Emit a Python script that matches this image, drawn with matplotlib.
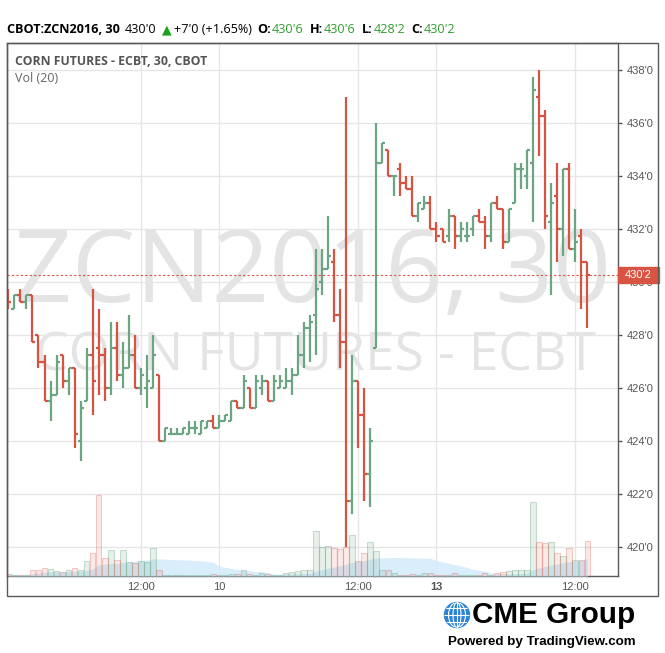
import numpy as np
import pandas as pd
import matplotlib
matplotlib.use("Agg")
import matplotlib.pyplot as plt
from matplotlib.patches import Rectangle, Circle, Ellipse

# 30-minute OHLC bars, ZCN2016 (cents/bu)
opens = [429.75, 429.0, 429.5, 429.25, 429.5, 428.0, 427.0, 425.5, 425.75, 427.25,
         426.25, 426.75, 424.0, 425.5, 427.25, 427.5, 427.25, 426.0, 427.5, 426.5,
         426.75, 427.25, 426.0, 426.0, 426.0, 426.5, 424.0, 424.25, 424.25, 424.25,
         424.25, 424.5, 424.25, 424.5, 424.75, 424.5, 424.75, 424.75, 425.5, 425.25,
         426.0, 425.25, 426.0, 426.25, 425.5, 426.0, 426.0, 426.25, 426.5, 427.25,
         428.25, 428.75, 430.0, 430.5, 430.75, 428.75, 427.75, 421.75, 426.25, 425.0,
         422.75, 427.5, 434.5, 435.0, 434.0, 434.25, 433.75, 433.5, 432.5, 432.75,
         433.0, 432.0, 432.0, 431.75, 432.5, 431.75, 431.75, 432.0, 432.5, 432.25,
         431.75, 433.0, 432.75, 431.5, 433.0, 434.25, 434.0, 434.5, 437.0, 436.25,
         432.25, 433.25, 432.0, 434.25, 431.25, 431.75, 430.75]
highs = [429.75, 429.5, 429.75, 429.5, 429.5, 428.0, 427.25, 426.25, 427.25, 427.25,
         426.75, 426.75, 425.5, 427.5, 429.75, 429.0, 427.5, 428.5, 428.5, 427.75,
         428.75, 428.0, 426.75, 427.25, 428.0, 426.5, 424.5, 424.5, 424.5, 424.5,
         424.75, 424.75, 424.75, 424.75, 425.0, 425.0, 425.0, 425.5, 425.5, 426.5,
         426.0, 426.5, 426.5, 426.25, 426.5, 426.5, 426.75, 426.75, 428.0, 428.5,
         428.75, 431.25, 431.25, 432.5, 431.25, 429.75, 437.0, 427.25, 426.25, 426.0,
         424.5, 436.0, 435.25, 435.0, 434.0, 434.5, 434.0, 434.0, 433.0, 433.25,
         433.25, 432.25, 432.0, 432.75, 432.5, 432.25, 432.25, 432.5, 432.75, 432.5,
         433.0, 433.25, 432.75, 432.75, 434.5, 434.5, 435.0, 437.75, 438.0, 436.5,
         433.75, 434.5, 434.25, 434.5, 432.75, 432.0, 430.75]
lows = [429.0, 429.0, 429.25, 429.0, 427.75, 426.75, 425.5, 424.75, 425.75, 426.0,
        425.75, 423.75, 423.25, 425.5, 425.0, 425.75, 425.5, 425.75, 426.25, 426.0,
        426.75, 426.0, 425.75, 425.25, 426.0, 424.0, 424.0, 424.25, 424.25, 424.25,
        424.25, 424.25, 424.25, 424.5, 424.5, 424.5, 424.75, 424.75, 425.25, 425.25,
        425.25, 425.25, 425.75, 425.5, 425.5, 426.0, 426.0, 425.75, 426.5, 426.75,
        427.0, 427.25, 429.5, 430.5, 428.5, 426.75, 420.0, 421.25, 423.75, 421.75,
        421.5, 427.5, 434.5, 434.0, 433.25, 433.25, 433.5, 432.5, 432.25, 432.75,
        432.0, 431.5, 431.5, 431.5, 431.25, 431.5, 431.5, 431.75, 432.25, 431.25,
        431.5, 432.75, 431.25, 431.5, 433.0, 433.5, 433.5, 432.25, 434.75, 432.0,
        429.5, 430.75, 431.0, 431.25, 430.75, 429.0, 428.25]
closes = [429.25, 429.5, 429.25, 429.5, 427.75, 427.0, 425.5, 425.75, 427.0, 426.25,
          426.75, 424.25, 425.25, 427.25, 426.25, 427.25, 426.0, 427.5, 426.5, 426.75,
          427.25, 426.0, 426.5, 426.25, 427.25, 424.0, 424.5, 424.25, 424.25, 424.5,
          424.5, 424.5, 424.75, 424.75, 424.5, 424.75, 425.0, 425.5, 425.25, 426.25,
          425.25, 426.25, 426.25, 425.5, 426.25, 426.25, 426.25, 426.5, 427.25, 428.25,
          428.5, 429.75, 430.5, 431.0, 428.75, 427.75, 421.75, 426.25, 425.0, 422.75,
          424.0, 434.5, 435.25, 434.0, 434.0, 433.75, 433.5, 432.5, 433.0, 433.0,
          432.0, 431.75, 431.5, 432.5, 431.75, 432.0, 431.75, 432.5, 432.25, 431.75,
          433.0, 432.75, 431.5, 432.75, 434.25, 434.25, 435.0, 437.25, 436.25, 432.5,
          433.0, 432.0, 434.25, 431.25, 431.5, 430.75, 430.25]
volumes = [100, 60, 40, 40, 230, 230, 340, 300, 190, 170,
           230, 340, 260, 590, 920, 3240, 740, 1060, 660, 1060,
           560, 520, 590, 560, 1130, 260, 60, 40, 30, 40,
           50, 40, 40, 60, 80, 60, 60, 80, 80, 230,
           90, 60, 110, 80, 60, 60, 120, 170, 200, 230,
           230, 1820, 1160, 1190, 1120, 1090, 1160, 1660, 600, 940,
           1380, 1000, 230, 230, 130, 60, 40, 90, 40, 130,
           130, 40, 40, 40, 130, 40, 30, 40, 40, 130,
           40, 130, 170, 200, 230, 260, 260, 2970, 1360, 1320,
           1380, 920, 790, 1130, 630, 630, 1420]

price_ticks = [420, 422, 424, 426, 428, 430, 432, 434, 436, 438]
time_ticks = [22, 35, 58, 71, 94]
time_labels = ["12:00", "10", "12:00", "13", "12:00"]
last_price = 430.25

GREEN = "#6ba583"
RED = "#d75442"
W, H = 665, 653


def quote(p):
    whole = int(p)
    return f"{whole}'{int(round((p - whole) * 8))}"


fig = plt.figure(figsize=(W / 100, H / 100), dpi=100)
fig.patch.set_facecolor("white")
renderer = fig.canvas.get_renderer()

rect = [7 / W, 1 - 576 / H, 611 / W, 533 / H]
ax = fig.add_axes(rect)
vax = fig.add_axes(rect, sharex=ax)
pax = fig.add_axes(rect, sharex=ax, sharey=ax)

x = np.arange(len(opens))
ax.set_xlim(-0.22, 101.1)
ax.set_ylim(418.91, 439.02)

# base axes: grid, ticks, watermark
ax.set_axisbelow(True)
ax.grid(True, color="#e6e6e6", lw=1)
ax.set_yticks(price_ticks)
ax.set_yticklabels([quote(p) for p in price_ticks])
ax.yaxis.tick_right()
ax.tick_params(axis="y", length=3, width=1, color="#555555", labelcolor="#555555",
               labelsize=8, pad=3)
ax.set_xticks(time_ticks)
ax.set_xticklabels(time_labels)
ax.tick_params(axis="x", length=0, labelcolor="#555555", labelsize=8, pad=4)
for lab in ax.get_xticklabels() + ax.get_yticklabels():
    lab.set_family("Liberation Sans")
ax.get_xticklabels()[3].set_fontweight("bold")
for s in ax.spines.values():
    s.set_color("#5a5a5a")
    s.set_linewidth(1)

wm1 = ax.text(313 / W, 1 - 276 / H, "ZCN2016, 30", transform=fig.transFigure,
              ha="center", va="center", color="#e4e4e4", fontsize=90,
              family="Open Sans", zorder=0.4)
wm1.set_fontsize(90 * 597 / wm1.get_window_extent(renderer).width)
wm2 = ax.text(315 / W, 1 - 357 / H, "CORN FUTURES - ECBT", transform=fig.transFigure,
              ha="center", va="center", color="#e4e4e4", fontsize=40,
              family="Open Sans", zorder=0.4)
wm2.set_fontsize(40 * 560 / wm2.get_window_extent(renderer).width)

# volume layer
vax.axis("off")
vax.patch.set_visible(False)
vax.set_ylim(0, 21320)
vol = pd.Series(volumes, dtype=float)
ma = vol.rolling(20, min_periods=1).mean()
vax.fill_between(x, 0, ma, color="#d3eafb", alpha=0.85, lw=0, zorder=1)
up = np.array(closes) >= np.array(opens)
vax.bar(x[up], vol[up], width=0.9, color=(0.42, 0.65, 0.51, 0.16),
        edgecolor=(0.42, 0.65, 0.51, 0.35), lw=0.8, zorder=2)
vax.bar(x[~up], vol[~up], width=0.9, color=(0.84, 0.33, 0.26, 0.12),
        edgecolor=(0.84, 0.33, 0.26, 0.28), lw=0.8, zorder=2)

# price bars
pax.axis("off")
pax.patch.set_visible(False)
colors = np.where(up, GREEN, RED)
pax.vlines(x, lows, highs, colors=colors, lw=1.6)
pax.hlines(opens, x - 0.5, x, colors=colors, lw=1.6)
pax.hlines(closes, x, x + 0.5, colors=colors, lw=1.6)

pax.axhline(last_price, color=RED, lw=0.8, ls=(0, (2, 2)))
tr = pax.get_yaxis_transform()
pax.add_patch(Rectangle((1.0, last_price - 0.3), 41 / 611, 0.6, transform=tr,
                        color=RED, clip_on=False, zorder=5))
pax.text(1.0 + 20 / 611, last_price, quote(last_price), transform=tr, ha="center",
         va="center", color="white", fontsize=8, family="Liberation Sans",
         clip_on=False, zorder=6)

# labels inside the pane
t = fig.text(15 / W, 1 - 65 / H, "CORN FUTURES - ECBT, 30, CBOT", color="#555555",
             fontsize=9, fontweight="bold", family="Open Sans")
t.set_fontsize(9 * 193 / t.get_window_extent(renderer).width)
fig.text(15 / W, 1 - 82 / H, "Vol (20)", color="#666666", fontsize=9, family="Open Sans")

# header line: pieces chained left to right
header = [
    ("CBOT:ZCN2016, 30", "black", "bold", 5),
    ("430'0", "black", "normal", 5),
    ("\u25b2", "#1ba11b", "normal", 3),
    ("+7'0 (+1.65%)", "black", "normal", 5),
    ("O:", "black", "bold", 1),
    ("430'6", "#2e9e2e", "normal", 6),
    ("H:", "black", "bold", 1),
    ("430'6", "#2e9e2e", "normal", 6),
    ("L:", "black", "bold", 1),
    ("428'2", "#2e9e2e", "normal", 6),
    ("C:", "black", "bold", 1),
    ("430'2", "#2e9e2e", "normal", 0),
]
probe = fig.text(0, 0, header[0][0], fontweight="bold", fontsize=9, family="Open Sans")
hsize = 9 * 113 / probe.get_window_extent(renderer).width
probe.remove()
px = 7.0
for s, c, wt, gap in header:
    fam = "DejaVu Sans" if s == "\u25b2" else "Open Sans"
    ht = fig.text(px / W, 1 - 33 / H, s, color=c, fontweight=wt, fontsize=hsize,
                  family=fam, va="baseline")
    px += ht.get_window_extent(renderer).width + gap

# frame and logo
deco = fig.add_axes([0, 0, 1, 1], zorder=10)
deco.set_xlim(0, W)
deco.set_ylim(H, 0)
deco.axis("off")
deco.patch.set_visible(False)
deco.add_patch(Rectangle((7, 43), 651, 553, fill=False, ec="#5a5a5a", lw=1))
globe = Circle((457, 615), 12.5, color="#2b83d3")
deco.add_patch(globe)
for w in (8, 17):
    e = Ellipse((457, 615), w, 25, fill=False, ec="white", lw=0.8)
    deco.add_patch(e)
    e.set_clip_path(globe)
for yy in (608, 615, 622):
    ln, = deco.plot([440, 475], [yy, yy], color="white", lw=0.8)
    ln.set_clip_path(globe)
deco.plot([457, 457], [602, 628], color="white", lw=0.8)[0].set_clip_path(globe)

cme = deco.text(472, 623, "CME Group", fontsize=20, fontweight="bold",
                family="Liberation Sans", va="baseline", ha="left")
cme.set_fontsize(20 * 163 / cme.get_window_extent(renderer).width)
pw = deco.text(448, 645, "Powered by TradingView.com", fontsize=9, fontweight="bold",
               family="Liberation Sans", va="baseline", ha="left")
pw.set_fontsize(9 * 188 / pw.get_window_extent(renderer).width)

fig.savefig("out.png", dpi=100)
